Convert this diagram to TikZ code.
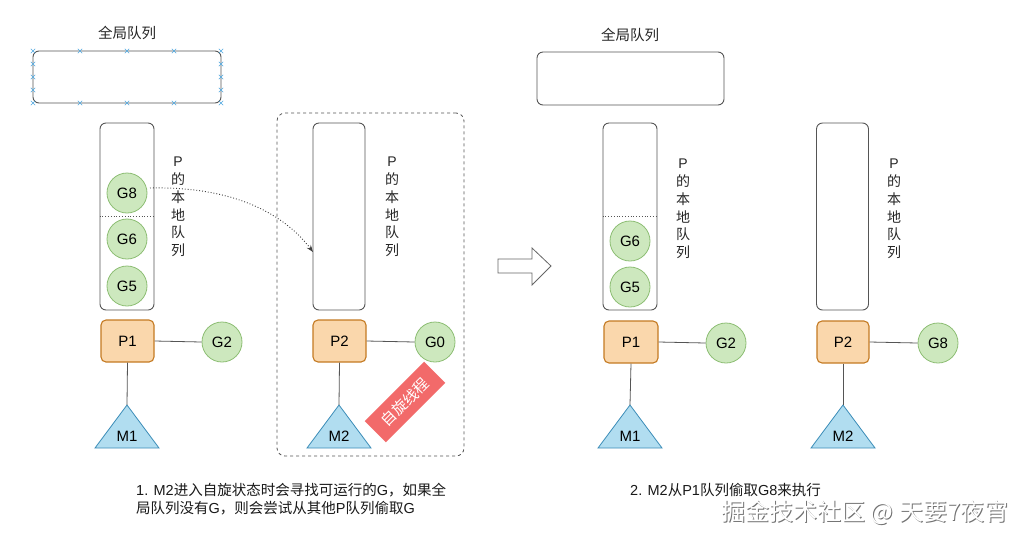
\documentclass[tikz,border=0pt]{standalone}
\usepackage{fontspec}
\setmainfont{Liberation Sans}
\newfontfamily\cjk{Noto Sans CJK SC}
\usetikzlibrary{arrows.meta,calc}
\definecolor{gfill}{HTML}{CDE8BE}
\definecolor{gdraw}{HTML}{8DBE74}
\definecolor{pfill}{HTML}{FAD7AC}
\definecolor{pdraw}{HTML}{C47A22}
\definecolor{mfill}{HTML}{B1DDF0}
\definecolor{mdraw}{HTML}{3C8DB8}
\definecolor{qdraw}{HTML}{555555}
\definecolor{redlab}{HTML}{F26A6A}
\definecolor{handle}{HTML}{4FA8E0}
\newcommand{\zh}[1]{{\cjk #1}}
\tikzset{
  qbox/.style={draw=qdraw, line width=0.9pt, rounded corners=6pt, fill=white},
  gnode/.style={circle, draw=gdraw, fill=gfill, line width=0.8pt, minimum size=40pt, inner sep=0pt, font=\fontsize{15}{16}\selectfont},
  pnode/.style={draw=pdraw, fill=pfill, line width=1.1pt, rounded corners=5pt, minimum height=42pt, inner sep=0pt, font=\fontsize{15}{16}\selectfont},
  mtri/.style={draw=mdraw, fill=mfill, line width=0.8pt},
  mlabel/.style={font=\fontsize{15}{16}\selectfont, inner sep=0pt},
  link/.style={draw=qdraw, line width=0.8pt},
  vtext/.style={align=center, font=\fontsize{14}{17.8}\selectfont, inner sep=0pt, text=black!85},
  title/.style={font=\cjk\fontsize{14.5}{16}\selectfont, inner sep=0pt, text=black!85},
  caption/.style={align=left, anchor=north west, font=\fontsize{14.5}{18}\selectfont, inner sep=0pt, text=black!90},
  hmark/.style={draw=handle, line width=0.6pt},
  wmark/.style={font=\cjk\fontsize{24}{26}\selectfont, inner sep=0pt},
}
\newcommand{\hx}[2]{\draw[hmark] (#1-2.2,#2-2.2) -- (#1+2.2,#2+2.2) (#1-2.2,#2+2.2) -- (#1+2.2,#2-2.2);}
\newcommand{\mtriangle}[4]{%
  \draw[mtri] (#1,405) -- (#1-32,448) -- (#1+32,448) -- cycle;
  \coordinate (#2) at (#1,405);
  \node[mlabel] (#3) at (#1,436) {#4};}
\newcommand{\ptext}{P\\\zh{的}\\\zh{本}\\\zh{地}\\\zh{队}\\\zh{列}}
\begin{document}
\begin{tikzpicture}[x=1pt,y=-1pt]
\useasboundingbox (0,0) rectangle (1033,542);
\fill[white] (0,0) rectangle (1033,542);

% ---------------- left half ----------------
\node[title] (gtitleL) at (127,33) {全局队列};
\node[qbox, minimum width=188pt, minimum height=52pt] (gqL) at (127,77) {};
\foreach \x in {33,80,127,174,221} {\hx{\x}{51}\hx{\x}{103}}
\foreach \y in {64,77,90} {\hx{33}{\y}\hx{221}{\y}}

\node[draw=qdraw, line width=0.8pt, dashed, rounded corners=8pt, minimum width=187pt, minimum height=343pt] (spin) at (370.5,284.5) {};

\node[qbox, minimum width=54pt, minimum height=187pt] (q1L) at (127,216.5) {};
\draw[qdraw, dotted, line width=0.8pt] (q1L.west) -- (q1L.east);
\node[gnode] (g8L) at (127,193) {G8};
\node[gnode] (g6L) at (127,239) {G6};
\node[gnode] (g5L) at (127,286) {G5};
\node[vtext] (t1L) at (178,207) {\ptext};

\node[qbox, minimum width=52pt, minimum height=187pt] (q2L) at (339,216.5) {};
\node[vtext] (t2L) at (392,207) {\ptext};

\coordinate (arrs) at (150,188);
\coordinate (arre) at (313,252);
\draw[black!75, dotted, line width=0.9pt, -{Stealth[length=7pt,width=5pt]}] (arrs) .. controls (235,186) and (285,215) .. (arre);

\node[pnode, minimum width=53pt] (p1L) at (127.5,341) {P1};
\node[gnode] (g2L) at (222,342) {G2};
\draw[link] (p1L.east) -- (g2L.west);
\mtriangle{127}{m1topL}{m1L}{M1}
\draw[link] (p1L.south) -- (m1topL);

\node[pnode, minimum width=53pt] (p2L) at (339.5,341) {P2};
\node[gnode] (g0L) at (435,342) {G0};
\draw[link] (p2L.east) -- (g0L.west);
\mtriangle{339}{m2topL}{m2L}{M2}
\draw[link] (p2L.south) -- (m2topL);

\node[fill=redlab, text=white, rotate=45, minimum width=84pt, minimum height=30pt, inner sep=0pt, font=\cjk\fontsize{15}{16}\selectfont] (spinlab) at (405,402) {自旋线程};

% hollow arrow
\draw[black!60, line width=0.8pt, fill=white] (498,259) -- (532,259) -- (532,248) -- (551,266) -- (532,285) -- (532,273) -- (498,273) -- cycle;

% ---------------- right half ----------------
\node[title] (gtitleR) at (630,35) {全局队列};
\node[qbox, minimum width=187pt, minimum height=53pt] (gqR) at (630.5,78.5) {};

\node[qbox, minimum width=54pt, minimum height=187pt] (q1R) at (630,216.5) {};
\draw[qdraw, dotted, line width=0.8pt] (q1R.west) -- (q1R.east);
\node[gnode] (g6R) at (630,241) {G6};
\node[gnode] (g5R) at (630,287) {G5};
\node[vtext] (t1R) at (683,209) {\ptext};

\node[qbox, minimum width=52pt, minimum height=187pt] (q2R) at (842.5,216.5) {};
\node[vtext] (t2R) at (894,209) {\ptext};

\node[pnode, minimum width=54pt] (p1R) at (631,342) {P1};
\node[gnode] (g2R) at (726,343) {G2};
\draw[link] (p1R.east) -- (g2R.west);
\mtriangle{630}{m1topR}{m1R}{M1}
\draw[link] (p1R.south) -- (m1topR);

\node[pnode, minimum width=52pt] (p2R) at (843,342) {P2};
\node[gnode] (g8R) at (938,343) {G8};
\draw[link] (p2R.east) -- (g8R.west);
\mtriangle{843}{m2topR}{m2R}{M2}
\draw[link] (p2R.south) -- (m2topR);

% ---------------- captions ----------------
\node[caption] (cap1) at (136,483) {1. M2\zh{进入自旋状态时会寻找可运行的}G\zh{，如果全}\\\zh{局队列没有}G\zh{，则会尝试从其他}P\zh{队列偷取}G};
\node[caption] (cap2) at (630,483) {2. M2\zh{从}P1\zh{队列偷取}G8\zh{来执行}};

% watermark
\node[wmark, text=black!55] (wmshadow) at (866,513) {掘金技术社区 @ 天要7夜宵};
\node[wmark, text=white] (wm) at (865,512) {掘金技术社区 @ 天要7夜宵};
\end{tikzpicture}
\end{document}
